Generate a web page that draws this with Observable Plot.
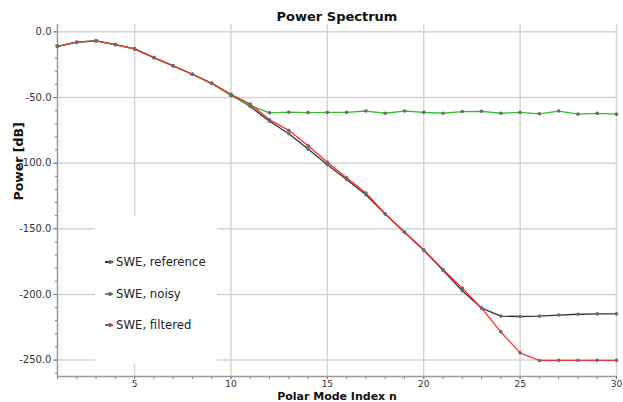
<!DOCTYPE html>
<html><head><meta charset="utf-8">
<script src="https://cdn.jsdelivr.net/npm/d3@7"></script>
<script src="https://cdn.jsdelivr.net/npm/@observablehq/plot@0.6"></script>
<style>
body{margin:0;background:#fff;}
#wrap{position:relative;width:623px;height:402px;}
#legend{position:absolute;left:95px;top:216px;width:122px;height:148px;background:#fff;font-family:"DejaVu Sans Condensed","DejaVu Sans",sans-serif;font-size:13px;color:#222;}
.row{position:absolute;left:10px;height:16px;line-height:16px;white-space:nowrap;}
.sw{display:inline-block;position:relative;width:11px;height:16px;vertical-align:top;}
.sw .ln{position:absolute;left:0;top:7px;width:8px;height:2px;}
.sw .pt{position:absolute;left:3px;top:6px;width:4px;height:4px;border-radius:50%;background:#666;}
</style>
</head><body>
<div id="wrap"><div id="legend"></div></div>
<script>
const modeIndex = [1,2,3,4,5,6,7,8,9,10,11,12,13,14,15,16,17,18,19,20,21,22,23,24,25,26,27,28,29,30];
const reference = [-11.0,-7.9,-6.9,-9.7,-13.0,-19.6,-25.9,-32.3,-39.2,-47.8,-56.8,-68.1,-77.6,-89.3,-101.2,-112.5,-124.1,-138.8,-152.6,-166.4,-181.6,-197.2,-210.4,-216.5,-216.8,-216.5,-215.7,-215.1,-214.8,-214.8];
const noisy = [-11.0,-7.9,-6.9,-9.7,-13.0,-19.6,-25.9,-32.3,-39.2,-48.6,-56.2,-61.7,-61.2,-61.5,-61.4,-61.3,-60.3,-62.0,-60.3,-61.3,-62.0,-60.7,-60.5,-62.0,-61.4,-62.4,-60.3,-62.7,-62.1,-62.7];
const filtered = [-11.0,-7.9,-6.9,-9.7,-13.0,-19.6,-25.9,-32.3,-39.2,-47.6,-55.0,-67.0,-75.0,-86.8,-99.4,-111.2,-122.7,-138.5,-152.4,-166.0,-181.0,-195.2,-210.4,-228.5,-244.5,-250.3,-250.2,-250.2,-250.2,-250.2];
const seriesNames = ["SWE, reference","SWE, noisy","SWE, filtered"];
const seriesColors = ["#333333","#2fbf2f","#ff2a2a"];
const xTicks = [5,10,15,20,25,30];
const yTicks = [0,-50,-100,-150,-200,-250];
const xMinor = [1,2,3,4,5,6,7,8,9,10,11,12,13,14,15,16,17,18,19,20,21,22,23,24,25,26,27,28,29,30];
const yMinor = [0,-10,-20,-30,-40,-50,-60,-70,-80,-90,-100,-110,-120,-130,-140,-150,-160,-170,-180,-190,-200,-210,-220,-230,-240,-250,-260];

const seriesValues = [reference, noisy, filtered];
const rows = [];
seriesValues.forEach((vals, si) => vals.forEach((v, i) => rows.push({n: modeIndex[i], p: v, s: seriesNames[si]})));

const font = "DejaVu Sans, sans-serif";
const marks = [
  Plot.gridX(xTicks, {stroke: "#d4d4d4", strokeOpacity: 1, strokeWidth: 1.5}),
  Plot.gridY(yTicks, {stroke: "#d4d4d4", strokeOpacity: 1, strokeWidth: 1.5}),
  Plot.axisX(xMinor, {tickSize: 3, text: null, label: null, stroke: "#777"}),
  Plot.axisX(xTicks, {tickSize: 3, tickPadding: 1, label: null, tickFormat: d => String(d), fill: "#333", fontSize: 9, stroke: "#777"}),
  Plot.axisY(yMinor, {tickSize: 2, text: null, label: null, stroke: "#777"}),
  Plot.axisY(yTicks, {tickSize: 4, tickPadding: 2, label: null, tickFormat: d => d.toFixed(1), fill: "#333", fontSize: 10, stroke: "#777"}),
  Plot.ruleX([1], {stroke: "#999", strokeWidth: 1.5}),
  Plot.ruleY([-262.5], {stroke: "#999", strokeWidth: 1.5}),
];
seriesNames.forEach((name, si) => {
  const d = rows.filter(r => r.s === name);
  marks.push(Plot.line(d, {x: "n", y: "p", stroke: seriesColors[si], strokeWidth: 1.3}));
});
seriesNames.forEach((name, si) => {
  const d = rows.filter(r => r.s === name);
  marks.push(Plot.dot(d, {x: "n", y: "p", r: 1.8, fill: "#6a6a6a", stroke: "none"}));
});
marks.push(Plot.text(["Power Spectrum"], {frameAnchor: "top", dy: -13, fontSize: 13, fontWeight: "bold", fill: "#111"}));
marks.push(Plot.text(["Polar Mode Index n"], {frameAnchor: "bottom", lineAnchor: "bottom", dy: 23.2, fontSize: 11, fontWeight: "bold", fill: "#111"}));
marks.push(Plot.text(["Power [dB]"], {frameAnchor: "left", dx: -39, rotate: -90, fontSize: 12.5, fontWeight: "bold", fill: "#111"}));

const chart = Plot.plot({
  width: 623, height: 402,
  marginLeft: 57, marginRight: 7, marginTop: 24, marginBottom: 26,
  style: {fontFamily: font, background: "#fff", overflow: "visible"},
  x: {domain: [1, 30], axis: null},
  y: {domain: [-262.5, 5.6], axis: null},
  marks
});
const wrap = document.getElementById("wrap");
wrap.insertBefore(chart, wrap.firstChild);

const legend = document.getElementById("legend");
seriesNames.forEach((name, si) => {
  const row = document.createElement("div");
  row.className = "row";
  row.style.top = (38 + si * 31.5) + "px";
  row.innerHTML = `<span class="sw"><span class="ln" style="background:${seriesColors[si]}"></span><span class="pt"></span></span>`;
  row.appendChild(document.createTextNode(name));
  legend.appendChild(row);
});
</script>
</body></html>
